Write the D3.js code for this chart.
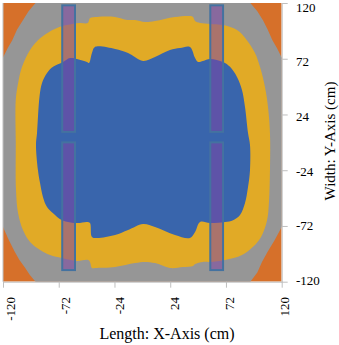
<!DOCTYPE html>
<html>
<head>
<meta charset="utf-8">
<script src="https://cdn.jsdelivr.net/npm/d3@7"></script>
<style>
  body { margin: 0; background: #fff; }
  svg { display: block; }
</style>
</head>
<body>
<div id="chart"></div>
<script>
// axis ticks (cm)
const xTicks = [-120, -72, -24, 24, 72, 120];
const yTicks = [-120, -72, -24, 24, 72, 120];

// contour band outlines, [x, y] in cm
// everything outside grayZone is the orange band
const grayZone = [
  [-92, 125], [93, 125], [93, 120], [99, 113], [104, 105], [108, 97], [112, 88], [116, 81], [120, 73], [125, 73],
  [125, -73], [120, -73], [114, -84], [108, -94], [103, -103], [99, -112], [93, -120], [93, -125],
  [-92, -125], [-92, -120], [-97, -114], [-101, -108], [-106, -101], [-110, -94], [-115, -84], [-120, -73], [-125, -73],
  [-125, 73], [-120, 73], [-116, 81], [-112, 88], [-108, 97], [-103, 105], [-98, 113], [-92, 120]
];

const yellowZone = [
  [-109, 0], [-109, 37], [-107, 51], [-103.6, 65], [-96.7, 79.5], [-89.9, 88],
  [-82, 94], [-73.5, 98.5], [-65, 101], [-54, 102.8], [-47, 102.8], [-45, 107],
  [-39, 108], [-23.5, 108], [-13, 105.4], [-6.3, 105.4], [2.3, 103.6], [10.9, 104.5],
  [28, 108], [41, 108.8], [43.6, 108], [45.4, 104.5], [49.7, 102.8], [58.3, 102],
  [69.5, 101], [81.5, 96.7], [90, 88], [97, 77], [101.3, 65], [105.6, 47.7],
  [108.2, 30.4], [109.9, 8], [109.9, -24], [109, -52], [107.4, -67], [102.2, -81.5],
  [95.3, -90], [85.8, -97], [71.2, -101.3], [58.3, -103], [52.2, -103], [45.4, -104.8],
  [43.6, -106.5], [35, -107.4], [23.8, -108.2], [10.9, -104], [2.3, -103], [-6.3, -104],
  [-23.5, -107.4], [-40.8, -108.2], [-43.4, -108.2], [-45.1, -103], [-46.8, -101.3],
  [-56.3, -102.2], [-69.2, -99.6], [-79.5, -97], [-88, -92.7], [-96.7, -85.8],
  [-102.8, -75.5], [-107, -61], [-108.8, -41]
];

const blueZone = [
  [-90.7, 8], [-91.6, -2.3], [-89.9, -24], [-88.1, -35], [-85.6, -47], [-82.1, -55.7],
  [-76.9, -61], [-69.2, -67], [-56.3, -69.5], [-47.7, -68.6], [-45.1, -69.5],
  [-43.4, -81.5], [-39, -82.4], [-23.5, -79.8], [-12.3, -75.5], [0.6, -70.3],
  [10.9, -72.9], [28.1, -79.8], [41, -82.4], [45.4, -77.2], [49.7, -68.6],
  [58.3, -69.5], [71.2, -68.6], [78.1, -67], [84.1, -62.6], [88.4, -52.2],
  [91, -38.5], [92.7, -24], [92.7, -2.3], [91, 8], [88.4, 30.4], [85.8, 45.1],
  [81.5, 56.3], [75.5, 65], [69.5, 69.2], [58.3, 71.8], [52.2, 70.1], [47.9, 69.2],
  [45.4, 72.6], [41, 82.1], [32.4, 81.2], [23.8, 79.5], [10.9, 73.5], [0.6, 70.1],
  [-12.3, 76.9], [-23.5, 80.4], [-40.8, 82.1], [-43.4, 76.9], [-45.9, 68.3],
  [-47.7, 69.2], [-56.3, 71.8], [-62.3, 72.6], [-68.3, 69.2], [-76.9, 65],
  [-82.1, 59.7], [-86.4, 51.1], [-88.5, 40]
];

// the two rails, each in two pieces
const rails = [
  { x0: -69, x1: -58, y0: 9, y1: 118 },
  { x0: -69, x1: -58, y0: -110, y1: 0 },
  { x0: 58.5, x1: 69.5, y0: 9, y1: 118 },
  { x0: 58.5, x1: 69.5, y0: -110, y1: 0 }
];

const width = 339, height = 345;
const plot = { left: 3, top: 3, right: 281.7, bottom: 281.7 };
const serif = '"Liberation Serif", "Times New Roman", serif';

const x = d3.scaleLinear().domain([-120, 120]).range([plot.left, plot.right]);
const y = d3.scaleLinear().domain([-120, 120]).range([plot.bottom, plot.top]);
// labels sit a little off the tick marks in the original
const xLab = d3.scaleLinear().domain([-120, 120]).range([10.5, 284]);
const yLab = d3.scaleLinear().domain([-120, 120]).range([280.5, 7]);

const svg = d3.select('#chart').append('svg')
  .attr('width', width)
  .attr('height', height);

svg.append('clipPath').attr('id', 'plotClip')
  .append('rect')
  .attr('x', plot.left).attr('y', plot.top)
  .attr('width', plot.right - plot.left)
  .attr('height', plot.bottom - plot.top);

const g = svg.append('g').attr('clip-path', 'url(#plotClip)');

// orange background band
g.append('rect')
  .attr('x', plot.left).attr('y', plot.top)
  .attr('width', plot.right - plot.left)
  .attr('height', plot.bottom - plot.top)
  .attr('fill', '#D6702A');

const zone = d3.line()
  .x(d => x(d[0]))
  .y(d => y(d[1]))
  .curve(d3.curveCatmullRomClosed.alpha(0.5));

g.append('path')
  .attr('d', d3.line().x(d => x(d[0])).y(d => y(d[1])).curve(d3.curveLinearClosed)(grayZone))
  .attr('fill', '#969696');
g.append('path').attr('d', zone(yellowZone)).attr('fill', '#E1AA26');
g.append('path').attr('d', zone(blueZone)).attr('fill', '#3965AC');

g.selectAll('rect.rail')
  .data(rails)
  .enter()
  .append('rect')
  .attr('class', 'rail')
  .attr('x', d => x(d.x0))
  .attr('y', d => y(d.y1))
  .attr('width', d => x(d.x1) - x(d.x0))
  .attr('height', d => y(d.y0) - y(d.y1))
  .attr('fill', 'rgb(126,70,165)')
  .attr('fill-opacity', 0.55)
  .attr('stroke', '#4472A0')
  .attr('stroke-width', 2);

// axes: lines and tick marks
const axisColor = '#BFBFBF';

const xAxis = svg.append('g')
  .attr('transform', `translate(0,${plot.bottom})`)
  .call(d3.axisBottom(x).tickValues(xTicks).tickSize(6).tickSizeOuter(0).tickFormat(''));

const yAxis = svg.append('g')
  .attr('transform', `translate(${plot.right},0)`)
  .call(d3.axisRight(y).tickValues(yTicks).tickSize(6).tickSizeOuter(0).tickFormat(''));

[xAxis, yAxis].forEach(a => {
  a.select('.domain').attr('stroke', axisColor);
  a.selectAll('.tick line').attr('stroke', axisColor);
});

svg.append('line')
  .attr('x1', plot.left).attr('x2', plot.left)
  .attr('y1', plot.top).attr('y2', plot.bottom)
  .attr('stroke', axisColor);

// tick labels
svg.append('g').selectAll('text')
  .data(xTicks)
  .enter()
  .append('text')
  .attr('transform', d => `translate(${xLab(d)},297) rotate(-90)`)
  .attr('text-anchor', 'end')
  .attr('dominant-baseline', 'central')
  .attr('font-family', serif)
  .attr('font-size', 13)
  .text(d => d);

svg.append('g').selectAll('text')
  .data(yTicks)
  .enter()
  .append('text')
  .attr('x', 296)
  .attr('y', d => yLab(d))
  .attr('dominant-baseline', 'central')
  .attr('font-family', serif)
  .attr('font-size', 13)
  .text(d => d);

// axis titles
svg.append('text')
  .attr('x', 167)
  .attr('y', 339)
  .attr('text-anchor', 'middle')
  .attr('font-family', serif)
  .attr('font-size', 16)
  .text('Length: X-Axis (cm)');

svg.append('text')
  .attr('transform', 'translate(335,141) rotate(-90)')
  .attr('text-anchor', 'middle')
  .attr('font-family', serif)
  .attr('font-size', 15)
  .text('Width: Y-Axis (cm)');
</script>
</body>
</html>
